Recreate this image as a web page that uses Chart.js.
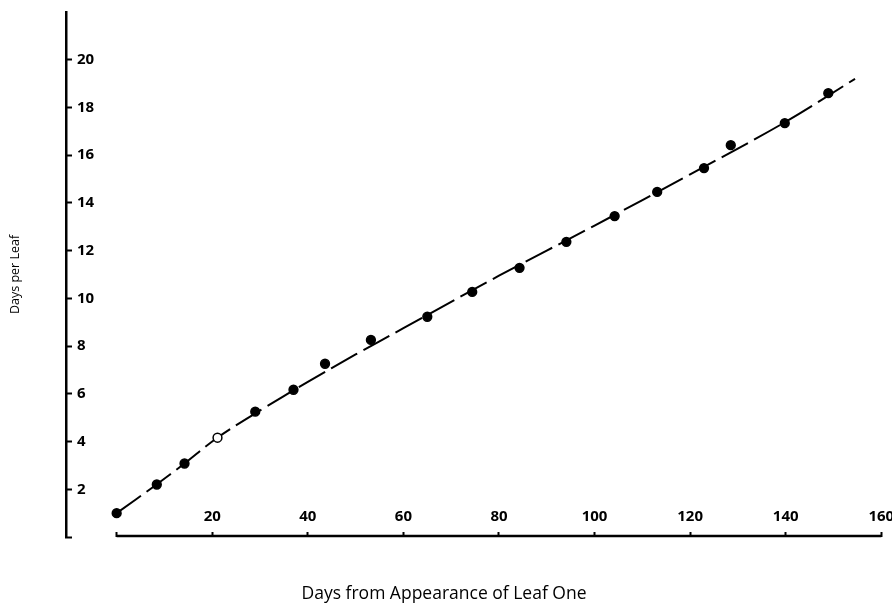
<!DOCTYPE html>
<html>
<head>
<meta charset="utf-8">
<script src="https://cdn.jsdelivr.net/npm/chart.js@4/dist/chart.umd.min.js"></script>
<style>
  html, body { margin: 0; padding: 0; background: #fff; }
</style>
</head>
<body>
<canvas id="leafChart" width="892" height="606"></canvas>
<script>
// observed points: days from appearance of leaf one vs days per leaf
const leafDay = [0, 8.4, 14.2, 21.1, 29, 37, 43.6, 53.2, 65, 74.4, 84.3, 94.1, 104.2, 113.1, 122.9, 128.5, 139.8, 148.9];
const daysPerLeaf = [1.0, 2.2, 3.08, 4.16, 5.25, 6.17, 7.26, 8.26, 9.23, 10.27, 11.28, 12.37, 13.45, 14.46, 15.46, 16.42, 17.34, 18.6];

// the dashed fitted curve
const fitDay = [0, 8, 14, 21, 30, 40, 50, 60, 80, 100, 120, 140, 154.5];
const fitValue = [1.0, 2.15, 3.05, 4.15, 5.3, 6.5, 7.65, 8.75, 10.95, 13.05, 15.2, 17.4, 19.2];

// axis ticks
const xTicks = [0, 20, 40, 60, 80, 100, 120, 140, 160];
const yTicks = [0, 2, 4, 6, 8, 10, 12, 14, 16, 18, 20];

const hollowPoint = 3; // the one open circle in the figure

const tickFont = { family: "'Liberation Sans Narrow', 'Open Sans', sans-serif", size: 15, weight: 'bold' };

// x axis line only runs from 0 to 160, not to the y axis
const xBaseline = {
  id: 'xBaseline',
  afterDraw(chart) {
    const xs = chart.scales.x;
    const ctx = chart.ctx;
    const yb = chart.chartArea.bottom - 1;
    ctx.save();
    ctx.strokeStyle = '#000';
    ctx.lineWidth = 2.5;
    ctx.beginPath();
    ctx.moveTo(xs.getPixelForValue(xTicks[0]), yb);
    ctx.lineTo(xs.getPixelForValue(xTicks[xTicks.length - 1]), yb);
    ctx.stroke();
    ctx.restore();
  }
};

const ctx = document.getElementById('leafChart').getContext('2d');
new Chart(ctx, {
  type: 'scatter',
  data: {
    datasets: [
      {
        label: 'observed',
        data: leafDay.map((d, i) => ({ x: d, y: daysPerLeaf[i] })),
        pointRadius: 4.4,
        pointBorderWidth: 1.5,
        pointBorderColor: '#000',
        pointBackgroundColor: c => c.dataIndex === hollowPoint ? '#fff' : '#000',
        showLine: false,
        order: 1
      },
      {
        label: 'fit',
        type: 'line',
        data: fitDay.map((d, i) => ({ x: d, y: fitValue[i] })),
        borderColor: '#000',
        borderWidth: 2,
        borderDash: [30, 7],
        pointRadius: 0,
        tension: 0.35,
        fill: false,
        order: 2
      }
    ]
  },
  options: {
    responsive: false,
    animation: false,
    layout: { padding: { top: 12, right: 4, bottom: 0, left: 0 } },
    plugins: {
      legend: { display: false },
      tooltip: { enabled: false },
      title: {
        display: true,
        position: 'bottom',
        text: 'Days from Appearance of Leaf One',
        color: '#000',
        font: { family: 'Open Sans', size: 17.5, weight: 'normal' },
        padding: { top: 0, bottom: 1 }
      }
    },
    scales: {
      x: {
        type: 'linear',
        min: -10.6,
        max: 161,
        afterBuildTicks: s => { s.ticks = xTicks.map(v => ({ value: v })); },
        afterFit: s => { s.height = 47; s.paddingLeft = 0; s.paddingRight = 0; },
        border: { display: false },
        grid: {
          drawOnChartArea: false,
          drawTicks: true,
          tickLength: -5,
          tickWidth: 2,
          tickColor: '#000'
        },
        ticks: {
          mirror: true,
          padding: 11,
          color: '#000',
          font: tickFont,
          maxRotation: 0,
          autoSkip: false,
          callback: v => v === 0 ? '' : String(v)
        }
      },
      y: {
        type: 'linear',
        min: 0,
        max: 22,
        afterBuildTicks: s => { s.ticks = yTicks.map(v => ({ value: v })); },
        afterFit: s => { s.width = 66; s.paddingTop = 0; s.paddingBottom = 0; },
        border: { display: true, color: '#000', width: 2.5 },
        grid: {
          drawOnChartArea: false,
          drawTicks: true,
          tickLength: -6,
          tickWidth: 2,
          tickColor: '#000'
        },
        ticks: {
          mirror: true,
          padding: 11,
          color: '#000',
          font: tickFont,
          autoSkip: false,
          callback: v => v === 0 ? '' : String(v)
        },
        title: {
          display: true,
          text: 'Days per Leaf',
          color: '#000',
          font: { family: 'Open Sans', size: 12.5, weight: 'normal' },
          padding: { top: 8, bottom: 0 }
        }
      }
    }
  },
  plugins: [xBaseline]
});
</script>
</body>
</html>
